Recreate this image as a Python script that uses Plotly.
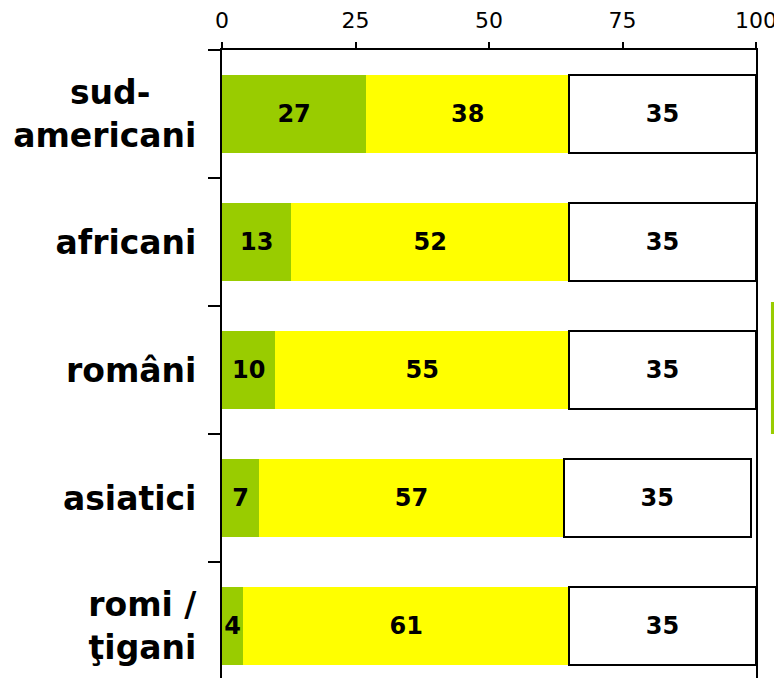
import plotly.graph_objects as go

categories = ["sud-americani", "africani", "români", "asiatici", "romi / ţigani"]
tick_text = ["sud-" + "&nbsp;" * 4 + "<br>americani", "africani", "români", "asiatici", "romi /<br>ţigani"]
green_vals = [27, 13, 10, 7, 4]
yellow_vals = [38, 52, 55, 57, 61]
white_vals = [35, 35, 35, 35, 35]
x_ticks = [0, 25, 50, 75, 100]

fig = go.Figure()
series = [
    (green_vals, "#99CC00", 0),
    (yellow_vals, "#FFFF00", 0),
    (white_vals, "#FFFFFF", 2),
]
for vals, col, lw in series:
    fig.add_trace(go.Bar(
        y=categories, x=vals, orientation="h",
        marker=dict(color=col, line=dict(color="#000000", width=lw)),
        text=[str(v) for v in vals], textposition="inside",
        insidetextanchor="middle",
        textfont=dict(family="DejaVu Sans", size=24, color="#000000", weight="bold"),
        width=0.61, showlegend=False, cliponaxis=False,
    ))

# page body adds an 8px offset; figure size and margins compensate for it
fig.update_layout(
    barmode="stack",
    width=774, height=670,
    margin=dict(l=214, r=26, t=42, b=0),
    plot_bgcolor="white", paper_bgcolor="white",
    uniformtext=dict(minsize=24, mode="show"),
    xaxis=dict(
        side="top", range=[0, 100], tickvals=x_ticks, automargin=False,
        showgrid=False, zeroline=False,
        showline=True, linecolor="#000000", linewidth=2,
        ticks="outside", ticklen=6, tickwidth=2, tickcolor="#000000",
        ticklabelstandoff=5,
        tickfont=dict(family="DejaVu Sans", size=22, color="#000000"),
    ),
    yaxis=dict(
        type="category", range=[4.406, -0.5], automargin=False,
        tickvals=categories, ticktext=tick_text,
        showgrid=False, zeroline=False,
        showline=True, linecolor="#000000", linewidth=2, mirror=True,
        ticks="outside", ticklen=12, tickwidth=2, tickcolor="#000000",
        tickson="boundaries", ticklabelstandoff=17,
        tickfont=dict(family="DejaVu Sans", size=33, color="#000000", weight="bold"),
    ),
    shapes=[dict(type="rect", xref="paper", yref="paper",
                 x0=1.028, x1=1.049, y0=0.3885, y1=0.5987,
                 fillcolor="#99CC00", line=dict(width=0), layer="above")],
)

fig.write_html("out.html")
